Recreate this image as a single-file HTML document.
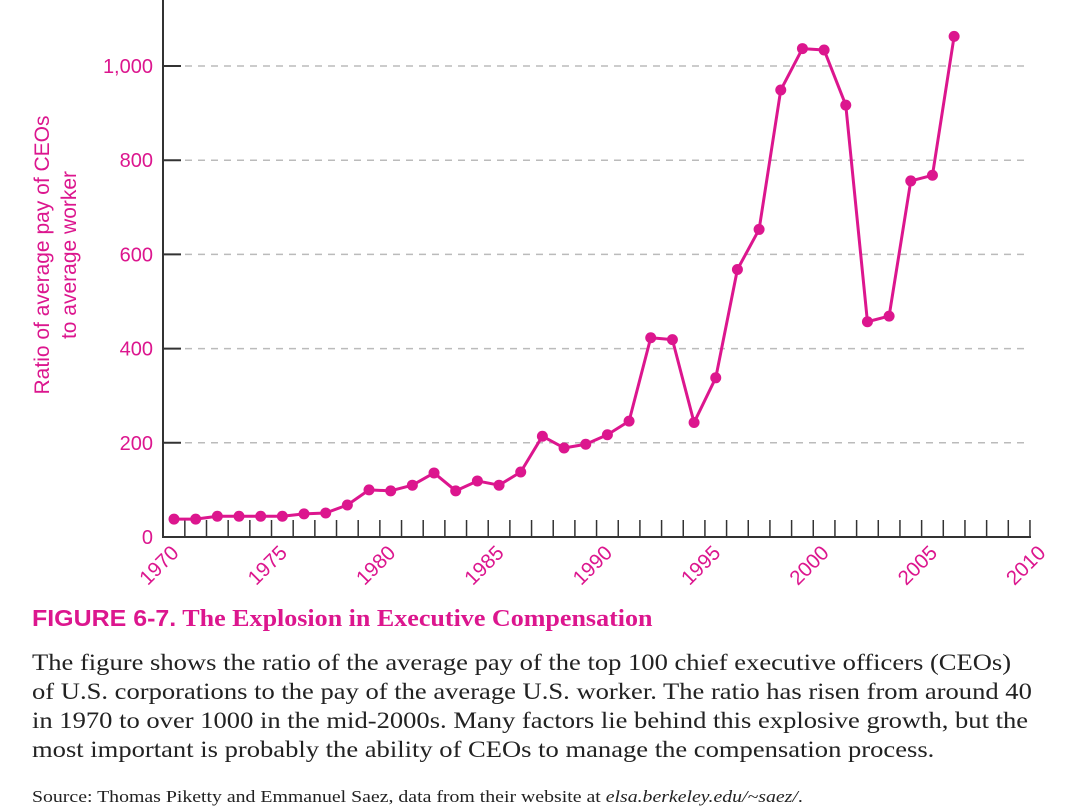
<!DOCTYPE html>
<html><head><meta charset="utf-8"><style>
body{margin:0;background:#fff;width:1080px;height:810px;overflow:hidden;position:relative}
.cap{position:absolute;left:32px;font-family:"Liberation Serif",serif;color:#222;white-space:nowrap;transform-origin:0 0}
.ln{display:block;height:29px}
</style></head><body>
<svg width="1080" height="600" style="position:absolute;left:0;top:0">
<g id="grid"></g><g id="axes"></g><g id="series"></g>
<text transform="translate(49,255) rotate(-90)" text-anchor="middle" font-family="Liberation Sans,sans-serif" font-size="21" fill="#dc168e">Ratio of average pay of CEOs</text>
<text transform="translate(76,255) rotate(-90)" text-anchor="middle" font-family="Liberation Sans,sans-serif" font-size="21" fill="#dc168e">to average worker</text>
</svg>
<div class="cap" style="top:605px;font-size:24px;font-weight:bold;color:#dc168e;transform:scaleX(1.085)"><span style="font-family:'Liberation Sans',sans-serif;font-size:23px">FIGURE 6-7.</span> The Explosion in Executive Compensation</div>
<div class="cap" style="top:648px;font-size:23px;line-height:29px;transform:scaleX(1.155)">
<span class="ln">The figure shows the ratio of the average pay of the top 100 chief executive officers (CEOs)</span>
<span class="ln">of U.S. corporations to the pay of the average U.S. worker. The ratio has risen from around 40</span>
<span class="ln">in 1970 to over 1000 in the mid-2000s. Many factors lie behind this explosive growth, but the</span>
<span class="ln">most important is probably the ability of CEOs to manage the compensation process.</span></div>
<div class="cap" style="top:787px;font-size:16.5px;transform:scaleX(1.2)">Source: Thomas Piketty and Emmanuel Saez, data from their website at <i>elsa.berkeley.edu/~saez/</i>.</div>
<script>
const years=[1970,1971,1972,1973,1974,1975,1976,1977,1978,1979,1980,1981,1982,1983,1984,1985,1986,1987,1988,1989,1990,1991,1992,1993,1994,1995,1996,1997,1998,1999,2000,2001,2002,2003,2004,2005,2006];
const ratios=[38,38,44,44,44,44,49,51,68,100,98,110,136,98,119,110,138,214,189,197,217,246,423,419,243,338,568,653,949,1037,1034,917,457,469,756,768,1063];
const yTicks=[0,200,400,600,800,1000];
const yTickLabels=["0","200","400","600","800","1,000"];
const xLabels=[1970,1975,1980,1985,1990,1995,2000,2005,2010];
const NS="http://www.w3.org/2000/svg";
const C="#dc168e";
function xs(y){return 174+(y-1970)*21.67;}
function ys(v){return 537-v*0.471;}
function mk(t,a,p){const e=document.createElementNS(NS,t);for(const k in a)e.setAttribute(k,a[k]);p.appendChild(e);return e;}
const grid=document.getElementById('grid'),axes=document.getElementById('axes'),ser=document.getElementById('series');
yTicks.forEach((v,i)=>{
 if(v>0){const g=mk('line',{x1:185,x2:1030,y1:ys(v),y2:ys(v),stroke:'#bbb','stroke-width':1.5,'stroke-dasharray':'7,6'},grid);
 
 }
 const tk=mk('line',{x1:163,x2:181,y1:ys(v),y2:ys(v),stroke:'#333','stroke-width':2},axes);
 
 
 const t=mk('text',{x:153,y:ys(v)+7,'text-anchor':'end','font-family':'Liberation Sans,sans-serif','font-size':20,fill:C},axes);
 t.textContent=yTickLabels[i];
 
 
});
const ya=mk('line',{x1:163,x2:163,y1:0,y2:538,stroke:'#333','stroke-width':2},axes);


const xa=mk('line',{x1:162,x2:1031,y1:537,y2:537,stroke:'#333','stroke-width':2},axes);


for(let k=0;k<40;k++){const x=xs(1970.5+k);const l=mk('line',{x1:x,x2:x,y1:520,y2:537,stroke:'#333','stroke-width':1.5},axes);
 
 }
xLabels.forEach(y=>{const x=xs(y);const t=mk('text',{transform:`translate(${x+6},554) rotate(-45)`,'text-anchor':'end','font-family':'Liberation Sans,sans-serif','font-size':20.5,fill:C},axes);
 t.textContent=y;
 
 });
const pts=years.map((y,i)=>xs(y)+','+ys(ratios[i])).join(' ');
const pl=mk('polyline',{points:pts,fill:'none',stroke:C,'stroke-width':3,'stroke-linejoin':'round'},ser);


years.forEach((y,i)=>{const c=mk('circle',{cx:xs(y),cy:ys(ratios[i]),r:5.5,fill:C},ser);
 
 });
</script>
</body></html>
